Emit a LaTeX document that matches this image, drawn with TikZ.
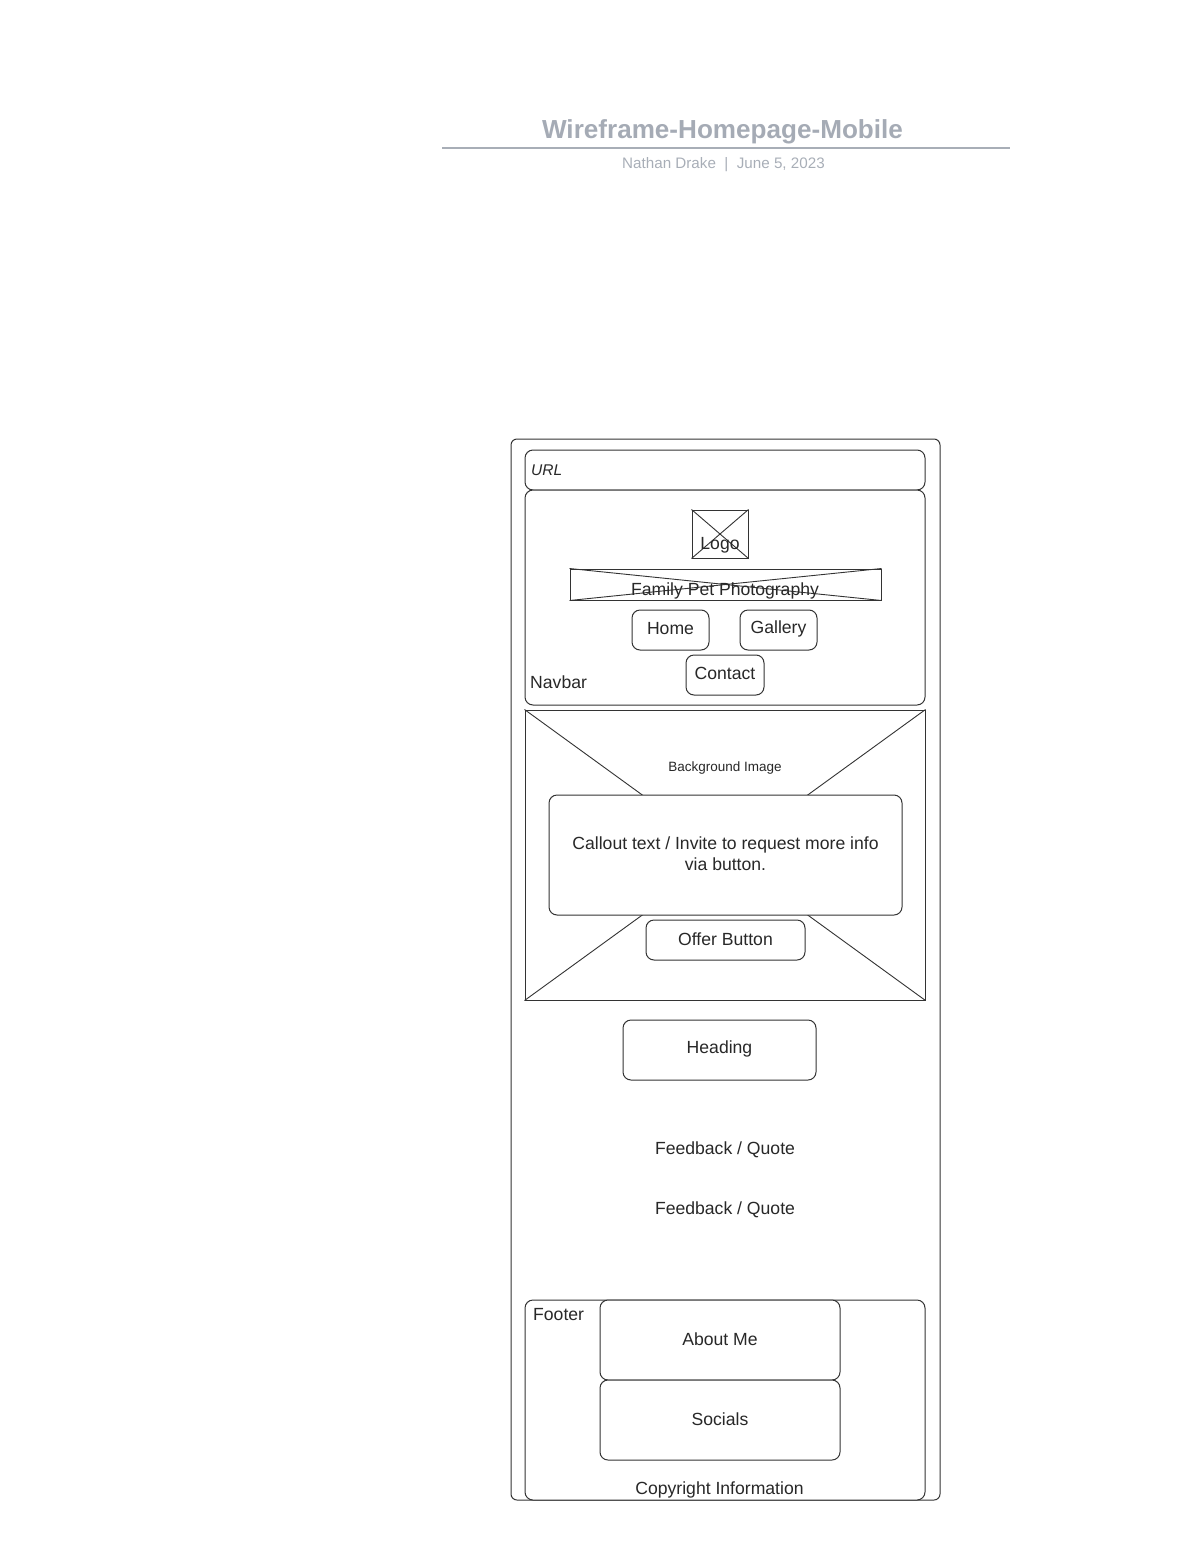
\documentclass[tikz,border=0pt]{standalone}
\usepackage{fontspec}
\setmainfont{Liberation Sans}
\definecolor{ln}{HTML}{333333}
\definecolor{tx}{HTML}{282828}
\definecolor{ttl}{HTML}{A5ABB5}
\definecolor{sub}{HTML}{A8AEB7}
\begin{document}
\begin{tikzpicture}[x=1pt,y=-1pt,
  box/.style={draw=ln, line width=1pt, rounded corners=8pt, inner sep=0pt, fill=white, text=tx, font=\fontsize{17.6}{21}\selectfont, align=center},
  sqbox/.style={draw=ln, line width=1pt, inner sep=0pt, text=tx},
  lbl/.style={inner sep=0pt, text=tx, font=\fontsize{17.6}{21}\selectfont, align=center},
  xline/.style={draw=ln, line width=0.9pt}]
\useasboundingbox (0,0) rectangle (1187,1560);
% title
\node[inner sep=0pt, text=ttl, font=\bfseries\fontsize{26.1}{30}\selectfont] (title) at (722.5,131.5) {Wireframe-Homepage-Mobile};
\coordinate (tl) at (442,148);
\coordinate (tr) at (1010,148);
\draw[sub, line width=2pt] (tl) -- (tr);
\node[inner sep=0pt, text=sub, font=\fontsize{15.2}{18}\selectfont] (subt) at (723.5,164.5) {Nathan Drake\ \ |\ \ June 5, 2023};
% outer frame
\node[box, rounded corners=6pt, minimum width=429pt, minimum height=1061pt] (frame) at (725.5,969.5) {};
% URL bar
\node[box, minimum width=400pt, minimum height=40pt] (url) at (725,470) {};
\node[lbl, anchor=west, font=\itshape\fontsize{15.5}{18}\selectfont] (urlt) at (531,470) {URL};
% navbar
\node[box, minimum width=400pt, minimum height=215pt] (nav) at (725,597.5) {};
\node[lbl, anchor=west] (navt) at (530,682.5) {Navbar};
\node[sqbox, minimum width=56pt, minimum height=48pt] (logo) at (720,534) {};
\draw[xline] (logo.north west) -- (logo.south east);
\draw[xline] (logo.north east) -- (logo.south west);
\node[lbl] (logot) at (720,545) {Logo};
\node[sqbox, minimum width=311pt, minimum height=31pt] (fpp) at (725.5,584.5) {};
\draw[xline] (fpp.north west) -- (fpp.south east);
\draw[xline] (fpp.north east) -- (fpp.south west);
\node[lbl] (fppt) at (725,591) {Family Pet Photography};
\node[box, minimum width=77pt, minimum height=40pt, fill=none] (home) at (670.5,630) {};
\node[lbl] (homet) at (670.5,628.5) {Home};
\node[box, minimum width=77pt, minimum height=40pt, fill=none] (gal) at (778.5,630) {};
\node[lbl] (galt) at (778.5,628.5) {Gallery};
\node[box, minimum width=78pt, minimum height=40pt, fill=none] (con) at (725,675) {};
\node[lbl] (cont) at (725,673.5) {Contact};
% hero
\node[sqbox, minimum width=400pt, minimum height=290pt] (hero) at (725,855) {};
\draw[xline] (hero.north west) -- (hero.south east);
\draw[xline] (hero.north east) -- (hero.south west);
\node[lbl, font=\fontsize{13.5}{16}\selectfont] (bgt) at (725,768.5) {Background Image};
\node[box, minimum width=353pt, minimum height=120pt] (callout) at (725.5,855) {};
\node[lbl] (callt) at (725.5,854) {Callout text / Invite to request more info\\via button.};
\node[box, minimum width=159pt, minimum height=40pt] (offer) at (725.5,940) {};
\node[lbl] (offert) at (725.5,939) {Offer Button};
% heading
\node[box, minimum width=193pt, minimum height=60pt] (head) at (719.5,1050) {};
\node[lbl] (headt) at (719.5,1049) {Heading};
% feedback
\node[lbl] (fb1) at (725,1150) {Feedback / Quote};
\node[lbl] (fb2) at (725,1210) {Feedback / Quote};
% footer
\node[box, minimum width=400pt, minimum height=200pt] (foot) at (725,1400) {};
\node[lbl, anchor=west] (foott) at (533,1315) {Footer};
\node[box, minimum width=240pt, minimum height=80pt] (about) at (720,1340) {};
\node[lbl] (aboutt) at (720,1339) {About Me};
\node[box, minimum width=240pt, minimum height=80pt] (soc) at (720,1420) {};
\node[lbl] (soct) at (720,1419) {Socials};
\node[lbl] (copy) at (719.5,1490) {Copyright Information};
\end{tikzpicture}
\end{document}
